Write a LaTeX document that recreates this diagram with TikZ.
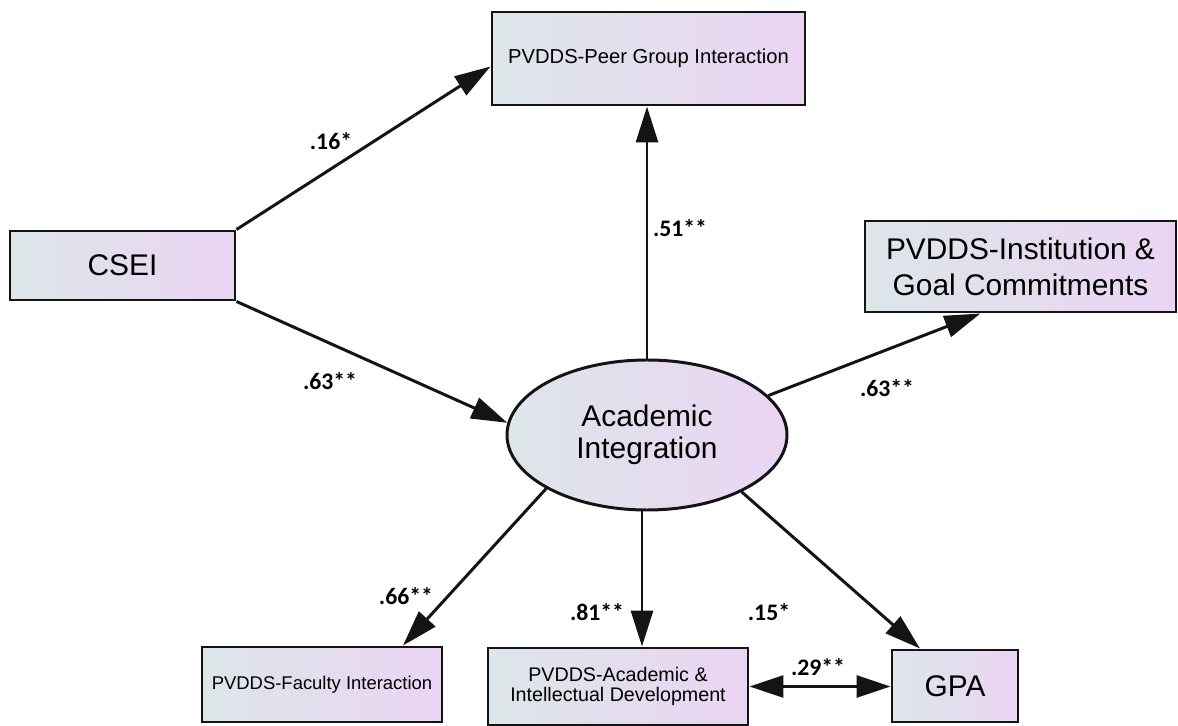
\documentclass[tikz,border=0pt]{standalone}
\usepackage{fontspec}
\setmainfont{Liberation Sans}
\newfontfamily\labfont{Carlito}
\usetikzlibrary{arrows.meta,calc,shapes.geometric}
\definecolor{gl}{RGB}{221,230,233}
\definecolor{gr}{RGB}{235,212,243}
\definecolor{bd}{RGB}{20,20,20}
\begin{document}
\begin{tikzpicture}[x=0.02cm,y=-0.02cm,
  box/.style={draw=bd,line width=1.7pt,left color=gl,right color=gr,inner sep=0pt,align=center},
  big/.style={font=\fontsize{17}{20.5}\selectfont},
  small/.style={font=\fontsize{11.5}{14}\selectfont},
  arr/.style={draw=bd,line width=1.7pt,-{Triangle[length=0.72cm,width=0.44cm]}},
  darr/.style={draw=bd,line width=1.7pt,{Triangle[length=0.68cm,width=0.44cm]}-{Triangle[length=0.68cm,width=0.44cm]}},
  lab/.style={font=\labfont\bfseries\fontsize{13.5}{16}\selectfont,inner sep=0pt}]
\useasboundingbox (0,0) rectangle (1178,726);

\node[box,big,minimum width=225*0.02cm,minimum height=69*0.02cm] (csei) at (122.5,265.5) {CSEI};
\node[box,small,minimum width=313*0.02cm,minimum height=93*0.02cm] (peer) at (648.5,58.5) {PVDDS-Peer Group Interaction};
\node[box,big,minimum width=311*0.02cm,minimum height=91*0.02cm] (inst) at (1020.5,266.5) {PVDDS-Institution \&\\Goal Commitments};
\node[box,ellipse,font=\fontsize{17}{18}\selectfont,minimum width=280*0.02cm,minimum height=150*0.02cm] (ell) at (647,435) {Academic\\Integration};
\node[box,font=\fontsize{10.5}{12}\selectfont,minimum width=240*0.02cm,minimum height=75*0.02cm] (fac) at (322,684.5) {PVDDS-Faculty Interaction};
\node[box,font=\fontsize{11.2}{11.5}\selectfont,minimum width=260*0.02cm,minimum height=77*0.02cm] (acad) at (618,686.5) {PVDDS-Academic \&\\Intellectual Development};
\node[box,big,minimum width=126*0.02cm,minimum height=72*0.02cm] (gpa) at (955,686) {GPA};

\coordinate (peerIn) at ($(peer.west)+(0,8)$);
\coordinate (instIn) at ($(inst.south)+(-40,0)$);
\coordinate (acadIn) at ($(acad.north)+(24,0)$);
\coordinate (gpaIn) at ($(gpa.north)+(-35,0)$);
\coordinate (facIn) at ($(fac.north)+(81,0)$);

\draw[arr] (csei.north east) -- (peerIn);
\draw[arr] (csei.south east) -- (ell.175);
\draw[arr] (ell.north) -- (ell.north |- peer.south);
\draw[arr] (ell.18) -- (instIn);
\draw[arr] (ell.208) -- (facIn);
\draw[arr] (ell.south -| acadIn) -- (acadIn);
\draw[arr] (ell.-31) -- (gpaIn);
\draw[darr] (acad.east) -- (acad.east -| gpa.west);

\node[lab] (l1) at (331,141) {.16*};
\node[lab] (l2) at (680,228) {.51**};
\node[lab] (l3) at (330,381) {.63**};
\node[lab] (l4) at (887,388) {.63**};
\node[lab] (l5) at (406,596) {.66**};
\node[lab] (l6) at (597,612) {.81**};
\node[lab] (l7) at (769,612) {.15*};
\node[lab] (l8) at (818,667) {.29**};
\end{tikzpicture}
\end{document}
